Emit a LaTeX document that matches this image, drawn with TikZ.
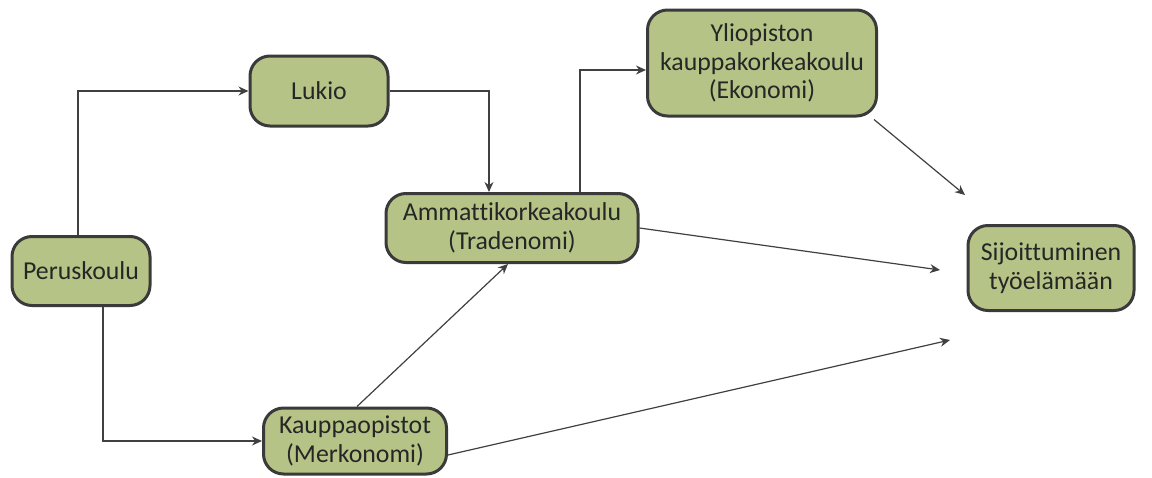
\documentclass[tikz,border=0pt]{standalone}
\usepackage{fontspec}
\setmainfont{Carlito}[Ligatures=NoCommon]
\usepackage{xcolor}
\usepackage{tikz}
\usetikzlibrary{calc}
\usetikzlibrary{arrows.meta}
\definecolor{boxfill}{RGB}{181,196,134}
\definecolor{boxline}{RGB}{58,58,58}
\definecolor{linkgray}{RGB}{64,64,64}
\tikzset{school/.style={draw=boxline, fill=boxfill, line width=1.5pt, rounded corners=10pt, align=center, font=\fontsize{12.9}{14.4}\selectfont, text=black!85, inner sep=1pt}}
\tikzset{link/.style={linkgray, line width=0.6pt, -{Stealth[length=5pt,width=4.5pt]}}}

\begin{document}
\begin{tikzpicture} [x=0.5pt, y=-0.5pt]
\useasboundingbox (0,0) rectangle (1152,477);
\node[school, minimum width=69pt, minimum height=34.5pt] (per) at (81,271) {Peruskoulu};
\node[school, minimum width=69pt, minimum height=35pt] (luk) at (319,91) {Lukio};
\node[school, minimum width=126pt, minimum height=34.5pt] (amk) at (512,228) {Ammattikorkeakoulu\\(Tradenomi)};
\node[school, minimum width=91.5pt, minimum height=33pt] (kau) at (355,441) {Kauppaopistot\\(Merkonomi)};
\node[school, minimum width=114.5pt, minimum height=53pt] (yli) at (762,63) {Yliopiston\\kauppakorkeakoulu\\(Ekonomi)};
\node[school, minimum width=83pt, minimum height=42.5pt] (sij) at (1051,268) {Sijoittuminen\\työelämään};
\coordinate (toA) at (940,270);
\coordinate (toB) at (965,195);
\coordinate (toC) at (950,340);
\draw[link] ([xshift=-1.5pt]per.north) |- (luk.west);
\draw[link] ([xshift=11pt]per.south) |- (kau.west);
\draw[link] (luk.east) -| ([xshift=-11.5pt]amk.north);
\draw[link] ([xshift=34pt]amk.north) |- ([yshift=-3.5pt]yli.west);
\draw[link] ([xshift=1pt]kau.north) -- ([xshift=-2pt]amk.south);
\draw[link] (amk.east) -- (toA);
\draw[link] ([xshift=-2pt,yshift=-1pt]yli.south east) -- (toB);
\draw[link] ([yshift=-7pt]kau.east) -- (toC);
\end{tikzpicture}
\end{document}
